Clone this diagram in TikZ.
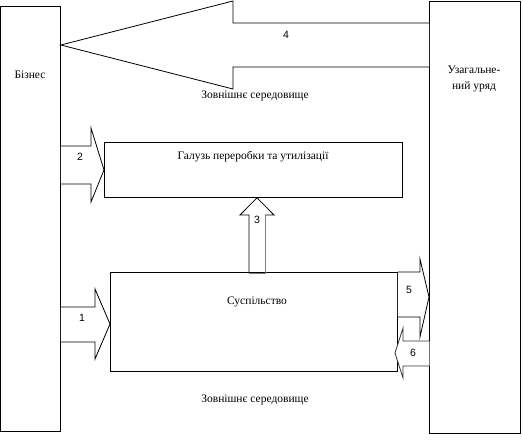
\documentclass[tikz,border=0pt]{standalone}
\usepackage{fontspec}
\setmainfont{Liberation Serif}
\newfontfamily\digitfont{Liberation Sans}

\begin{document}
\begin{tikzpicture}[x=1pt, y=-1pt]
            \tikzstyle{line} = [line width=0.8pt, line join=miter]
            \tikzstyle{box} = [line, draw, fill=white, inner sep=0pt]
            \tikzstyle{txt} = [font=\fontsize{11.5}{13}\selectfont, inner sep=0pt]
            \tikzstyle{num} = [font=\digitfont\fontsize{10.5}{12}\selectfont, inner sep=0pt]
            \useasboundingbox (0, 0) rectangle (523, 444);
            % side boxes
            \node[box, anchor=north west, minimum width=60pt, minimum height=425pt] (biz) at (0, 6) {};
            \node[box, anchor=north west, minimum width=91pt, minimum height=432pt] (gov) at (429, 1) {};
            \node[txt] (bizlabel) at (30, 75) {Бізнес};
            \node[txt, align=center] (govlabel) at (474, 79) {Узагальне-\\[3pt]ний уряд};
            % inner boxes
            \node[box, anchor=north west, minimum width=298pt, minimum height=55pt] (recycle) at (104, 142) {};
            \node[txt] (recyclelabel) at (253, 157) {Галузь переробки та утилізації};
            \node[box, anchor=north west, minimum width=287pt, minimum height=99pt] (society) at (110, 272) {};
            \node[txt] (societylabel) at (257, 302) {Суспільство};
            % arrow 4
            \draw[line, fill=white] (gov.north west |- 0, 23) -- (233, 23) -- (233, 1) -- (biz.north east |- 0, 45)
                -- (233, 89) -- (233, 67) -- (gov.north west |- 0, 67);
            \node[num] (n4) at (286, 35) {4};
            \node[txt] (env1) at (255, 96) {Зовнішнє середовище};
            % arrow 2
            \draw[line, fill=white] (biz.north east |- 0, 146) -- (91, 146) -- (91, 128) -- (recycle.west)
                -- (91, 202) -- (91, 184) -- (biz.north east |- 0, 184);
            \node[num] (n2) at (80, 157) {2};
            % arrow 3
            \draw[line, fill=white] (249, 273) -- (249, 215) -- (240, 215) -- (recycle.south -| 257, 0)
                -- (274, 215) -- (265, 215);
            \draw[line, draw=black!50] (265, 215) -- (265, 273) -- (249, 273);
            \node[num] (n3) at (257, 220) {3};
            % arrow 1
            \draw[line, fill=white] (biz.north east |- 0, 307) -- (95, 307) -- (95, 289) -- (society.west |- 0, 324)
                -- (95, 359) -- (95, 342) -- (biz.north east |- 0, 342);
            \node[num] (n1) at (82, 318) {1};
            % arrow 5
            \draw[line, fill=white] (society.north east |- 0, 272) -- (420, 272) -- (420, 259) -- (gov.west |- 0, 297)
                -- (420, 337) -- (420, 317) -- (society.north east |- 0, 317);
            \node[num] (n5) at (409, 290) {5};
            % arrow 6
            \draw[line, fill=white, draw=black!80] (gov.west |- 0, 341) -- (403, 341) -- (403, 328) -- (395, 353)
                -- (403, 378) -- (403, 366) -- (gov.west |- 0, 366);
            \draw[line, draw=black!55] (gov.west |- 0, 341) -- (gov.west |- 0, 366);
            \node[num] (n6) at (413, 353) {6};
            \node[txt] (env2) at (255, 400) {Зовнішнє середовище};
\end{tikzpicture}
\end{document}
